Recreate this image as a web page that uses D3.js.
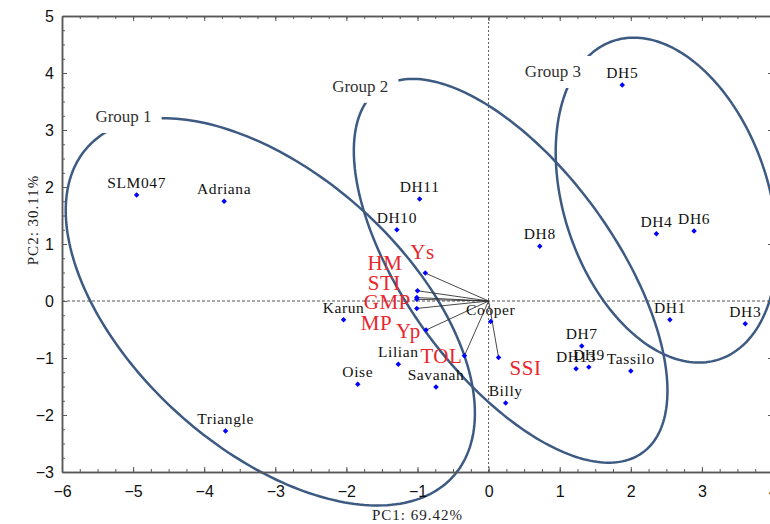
<!DOCTYPE html>
<html>
<head>
<meta charset="utf-8">
<script src="https://cdn.jsdelivr.net/npm/d3@7"></script>
<style>
body { margin: 0; background: #fff; }
</style>
</head>
<body>
<div id="chart"></div>
<script>
// genotypes (PC1, PC2 scores)
const genotypes = ["SLM047", "Adriana", "Triangle", "Karun", "Oise", "Lilian", "Savanah", "Billy", "Cooper",
  "DH10", "DH11", "DH8", "DH5", "DH4", "DH6", "DH1", "DH3", "DH7", "DH13", "DH9", "Tassilo"];
const genoPc1 = [-4.95, -3.72, -3.70, -2.04, -1.84, -1.27, -0.74, 0.24, 0.03,
  -1.29, -0.97, 0.72, 1.88, 2.36, 2.89, 2.55, 3.61, 1.31, 1.23, 1.41, 2.00];
const genoPc2 = [1.86, 1.75, -2.28, -0.33, -1.46, -1.11, -1.51, -1.79, -0.36,
  1.25, 1.79, 0.96, 3.79, 1.18, 1.23, -0.33, -0.40, -0.79, -1.19, -1.16, -1.23];

// indices (loadings)
const traits = ["Ys", "HM", "STI", "GMP", "MP", "Yp", "TOL", "SSI"];
const traitPc1 = [-0.89, -1.00, -1.01, -1.01, -1.01, -0.88, -0.34, 0.14];
const traitPc2 = [0.49, 0.18, 0.06, 0.03, -0.13, -0.51, -0.96, -0.99];

// group ellipses: centre, semi axes (PC1 units), tilt in degrees
const groups = ["Group 1", "Group 2", "Group 3"];
const groupCx = [-3.07, 0.31, 2.50];
const groupCy = [-0.19, 0.53, 1.77];
const groupA = [3.46, 3.16, 2.36];
const groupB = [1.93, 1.47, 1.44];
const groupTilt = [42, 54, 71.6];

const xTicks = [-6, -5, -4, -3, -2, -1, 0, 1, 2, 3, 4];
const yTicks = [-3, -2, -1, 0, 1, 2, 3, 4, 5];

// placement of the annotations (data units)
const groupLabelPos = [[-5.53, 3.14], [-2.20, 3.67], [0.51, 3.93]];
const traitLabelOff = {
  Ys: [-15, -14], HM: [-50, -21], STI: [-49, -8], GMP: [-53, 10],
  MP: [-56, 22], Yp: [-30, 8], TOL: [-44, 7], SSI: [11, 18]
};

const width = 770, height = 524;
const x = d3.scaleLinear().domain([-6, 4]).range([62, 773]);
const y = d3.scaleLinear().domain([-3, 5]).range([472, 16]);

const svg = d3.select("#chart").append("svg")
  .attr("width", width)
  .attr("height", height);

const serif = "'Liberation Serif', 'Times New Roman', serif";
const frameCol = "#585858";

// zero lines
svg.append("line")
  .attr("x1", x(-6)).attr("x2", x(4)).attr("y1", y(0)).attr("y2", y(0))
  .attr("stroke", "#555").attr("stroke-width", 1).attr("stroke-dasharray", "3,2");
svg.append("line")
  .attr("x1", x(0)).attr("x2", x(0)).attr("y1", y(-3)).attr("y2", y(5))
  .attr("stroke", "#555").attr("stroke-width", 1).attr("stroke-dasharray", "2,2");

// ellipses
const unit = x(1) - x(0);
const ellipseLine = d3.line().curve(d3.curveLinearClosed);
groups.forEach((g, i) => {
  const cx = x(groupCx[i]), cy = y(groupCy[i]);
  const a = groupA[i] * unit, b = groupB[i] * unit;
  const th = groupTilt[i] * Math.PI / 180;
  const pts = d3.range(0, 240).map(k => {
    const t = k / 240 * 2 * Math.PI;
    return [cx + a * Math.cos(t) * Math.cos(th) - b * Math.sin(t) * Math.sin(th),
            cy + a * Math.cos(t) * Math.sin(th) + b * Math.sin(t) * Math.cos(th)];
  });
  svg.append("path")
    .attr("d", ellipseLine(pts))
    .attr("fill", "none")
    .attr("stroke", "#3d5a82")
    .attr("stroke-width", 2.5);
});

// vectors
traits.forEach((t, i) => {
  svg.append("line")
    .attr("x1", x(0)).attr("y1", y(0))
    .attr("x2", x(traitPc1[i])).attr("y2", y(traitPc2[i]))
    .attr("stroke", "#333").attr("stroke-width", 0.9);
});

const marker = d3.symbol(d3.symbolSquare).size(15);

// markers for traits and genotypes
svg.selectAll(".tm")
  .data(traits)
  .enter().append("path")
  .attr("class", "tm")
  .attr("d", marker)
  .attr("transform", (d, i) => `translate(${x(traitPc1[i])},${y(traitPc2[i])}) rotate(45)`)
  .attr("fill", "#0000ff");

svg.selectAll(".gm")
  .data(genotypes)
  .enter().append("path")
  .attr("class", "gm")
  .attr("d", marker)
  .attr("transform", (d, i) => `translate(${x(genoPc1[i])},${y(genoPc2[i])}) rotate(45)`)
  .attr("fill", "#0000ff");

// genotype labels
svg.selectAll(".gl")
  .data(genotypes)
  .enter().append("text")
  .attr("class", "gl")
  .attr("x", (d, i) => x(genoPc1[i]))
  .attr("y", (d, i) => y(genoPc2[i]) - 7)
  .attr("text-anchor", "middle")
  .attr("font-family", serif)
  .attr("font-size", 15.5)
  .attr("letter-spacing", 0.6)
  .attr("fill", "#111")
  .text(d => d);

// trait labels
svg.selectAll(".tl")
  .data(traits)
  .enter().append("text")
  .attr("class", "tl")
  .attr("x", (d, i) => x(traitPc1[i]) + traitLabelOff[d][0])
  .attr("y", (d, i) => y(traitPc2[i]) + traitLabelOff[d][1])
  .attr("font-family", serif)
  .attr("font-size", 21)
  .attr("letter-spacing", 0.5)
  .attr("fill", "#e8262d")
  .text(d => d);

// group labels on a white box that cuts the ellipse
groups.forEach((g, i) => {
  const txt = svg.append("text")
    .attr("x", x(groupLabelPos[i][0]))
    .attr("y", y(groupLabelPos[i][1]))
    .attr("font-family", serif)
    .attr("font-size", 17)
    .attr("fill", "#333")
    .text(g);
  const bb = txt.node().getBBox();
  svg.insert("rect", () => txt.node())
    .attr("x", bb.x - 8).attr("y", bb.y - 6)
    .attr("width", bb.width + 18).attr("height", bb.height + 13)
    .attr("fill", "#fff");
});

// frame and axes
const axG = svg.append("g");
function addAxis(axis, tr, vals, size, labels) {
  const g = axG.append("g").attr("transform", tr)
    .call(axis.tickValues(vals).tickSizeInner(-size).tickSizeOuter(0));
  g.selectAll("line").attr("stroke", frameCol);
  g.select(".domain").attr("stroke", frameCol).attr("stroke-width", 1.5);
  if (!labels) g.selectAll("text").remove();
  return g;
}
const xMinor = d3.range(-6, 4.01, 0.25);
const yMinor = d3.range(-3, 5.01, 0.25);

addAxis(d3.axisBottom(x), `translate(0,${y(-3)})`, xMinor, 3, false);
addAxis(d3.axisTop(x), `translate(0,${y(5)})`, xMinor, 3, false);
addAxis(d3.axisLeft(y), `translate(${x(-6)},0)`, yMinor, 3, false);
addAxis(d3.axisRight(y), `translate(${x(4)},0)`, yMinor, 3, false);

const xb = addAxis(d3.axisBottom(x).tickPadding(14), `translate(0,${y(-3)})`, xTicks, 5, true);
addAxis(d3.axisTop(x), `translate(0,${y(5)})`, xTicks, 5, false);
const yl = addAxis(d3.axisLeft(y).tickPadding(8), `translate(${x(-6)},0)`, yTicks, 5, true);
addAxis(d3.axisRight(y), `translate(${x(4)},0)`, yTicks, 5, false);

[xb, yl].forEach(g => g.selectAll("text")
  .attr("font-family", "'Liberation Sans', Arial, sans-serif")
  .attr("font-size", 16)
  .attr("fill", "#111"));

// axis titles
svg.append("text")
  .attr("x", (x(-6) + x(4)) / 2)
  .attr("y", 520)
  .attr("text-anchor", "middle")
  .attr("font-family", serif)
  .attr("font-size", 15)
  .attr("letter-spacing", 1)
  .attr("fill", "#222")
  .text("PC1: 69.42%");

svg.append("text")
  .attr("transform", `translate(38,220) rotate(-90)`)
  .attr("text-anchor", "middle")
  .attr("font-family", serif)
  .attr("font-size", 15)
  .attr("letter-spacing", 1)
  .attr("fill", "#222")
  .text("PC2: 30.11%");
</script>
</body>
</html>
